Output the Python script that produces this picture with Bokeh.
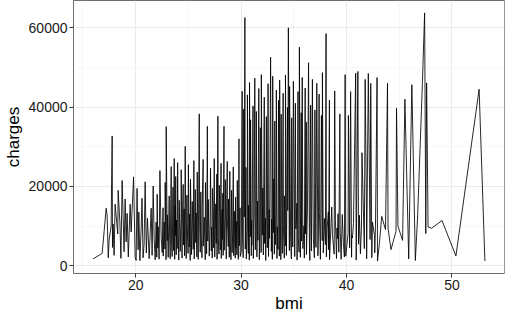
from bokeh.plotting import figure
from bokeh.models import Range1d, FixedTicker, ColumnDataSource
from bokeh.embed import file_html
from bokeh.resources import INLINE

# ---- data (bmi sorted ascending, charges in USD) ----
bmi_a = [15.96, 16.82, 17.2, 17.29, 17.4, 17.48, 17.67, 17.77, 17.8, 17.86,
         17.955, 18.05, 18.3, 18.335, 18.5, 18.6, 18.715, 18.9, 19.0, 19.095,
         19.19, 19.3, 19.475, 19.57, 19.8, 19.95]
charges_a = [1695, 3100, 14455, 12830, 2000, 6500, 9900, 32734, 4600, 10500,
             2600, 15500, 8000, 19000, 11000, 1850, 21500, 3500, 16800, 6000,
             13200, 2200, 15500, 8500, 22400, 2100]

bmi_b = [20.045, 20.13, 20.235, 20.3, 20.4, 20.52, 20.6, 20.7, 20.8, 20.9,
         21.01, 21.12, 21.28, 21.375, 21.47, 21.56, 21.66, 21.755, 21.85, 21.945]
charges_b = [1300, 19500, 4000, 13500, 1250, 9500, 17000, 2000, 5500, 21150,
             3200, 12000, 1750, 8000, 14500, 2600, 20100, 6800, 1500, 11000]

bmi_c = [22.0, 22.04, 22.1, 22.135, 22.22, 22.3, 22.42, 22.515, 22.6, 22.61,
         22.705, 22.77, 22.8, 22.88, 22.895, 22.99, 23.0, 23.085, 23.18, 23.21,
         23.275, 23.32, 23.37, 23.4, 23.465, 23.54, 23.56, 23.6, 23.655, 23.7,
         23.75, 23.76, 23.8, 23.845, 23.87, 23.94, 23.98, 24.035, 24.09, 24.13,
         24.225, 24.3, 24.32, 24.4, 24.415, 24.51, 24.53, 24.6, 24.64, 24.7,
         24.75, 24.795, 24.86, 24.89, 24.97, 25.0, 25.08, 25.1, 25.175, 25.2,
         25.27, 25.3, 25.365, 25.4, 25.46, 25.52, 25.555, 25.6, 25.65, 25.7,
         25.74, 25.8, 25.84, 25.9, 25.935, 26.03, 26.07, 26.125, 26.18, 26.22,
         26.29, 26.315, 26.4, 26.41, 26.505, 26.6, 26.62, 26.695, 26.73, 26.8,
         26.84, 26.885, 26.98, 27.06, 27.1, 27.17, 27.2, 27.265, 27.28, 27.36,
         27.4, 27.455, 27.5, 27.55, 27.6, 27.645, 27.7, 27.72, 27.74, 27.8,
         27.835, 27.9, 27.93, 28.0, 28.025, 28.1, 28.12, 28.2, 28.215, 28.27,
         28.3, 28.31, 28.38, 28.4, 28.49, 28.5, 28.595, 28.6, 28.69, 28.7,
         28.785, 28.8, 28.88, 28.9, 28.93, 28.975, 29.04, 29.07, 29.1, 29.15,
         29.2, 29.26, 29.3, 29.355, 29.4, 29.45, 29.48, 29.5, 29.59, 29.6,
         29.64, 29.7, 29.735, 29.8, 29.83, 29.9, 29.92]
charges_c = [2150, 18000, 4500, 9800, 1650, 24000, 7000, 3300, 14600, 2400,
             11000, 4200, 21000, 1500, 35070, 6300, 12800, 2100, 17600, 8900,
             1750, 13600, 25000, 5400, 2300, 19800, 9200, 3800, 27000, 1600,
             15000, 7600, 22500, 2700, 11500, 4300, 26000, 8100, 1400, 16500,
             3600, 12000, 24200, 1900, 9500, 20500, 5200, 14300, 2500, 30100,
             6700, 1800, 17800, 10800, 3100, 25500, 4700, 13000, 1300, 21800,
             7900, 2800, 16200, 11600, 4100, 26500, 1700, 9100, 19200, 5800,
             13300, 2200, 23600, 6100, 1600, 38300, 10200, 3400, 18600, 7300,
             2000, 14800, 26800, 4900, 12200, 1500, 21000, 8400, 3000, 35150,
             6200, 16700, 2400, 11300, 24600, 3700, 9700, 1900, 19500, 13800,
             4500, 27000, 2200, 8800, 15600, 5600, 23100, 1600, 12600, 37700,
             7100, 2900, 20300, 10500, 4000, 25800, 1800, 14200, 6600, 18300,
             2600, 9900, 35150, 3900, 13100, 21700, 1700, 7700, 26300, 11800,
             4800, 16800, 2100, 10600, 23800, 5900, 1500, 12400, 19000, 3300,
             8200, 24900, 2500, 13700, 6000, 1900, 17300, 4400, 11200, 2700,
             21500, 7500, 1600, 32000, 5000, 14600, 2300]

bmi_d = [30.02, 30.1, 30.14, 30.2, 30.25, 30.3, 30.36, 30.4, 30.46, 30.495,
         30.59, 30.6, 30.685, 30.69, 30.78, 30.8, 30.875, 30.9, 30.97, 31.0,
         31.02, 31.13, 31.16, 31.24, 31.3, 31.35, 31.4, 31.445, 31.5, 31.57,
         31.6, 31.68, 31.73, 31.79, 31.825, 31.9, 31.92, 32.01, 32.06, 32.11,
         32.2, 32.23, 32.3, 32.34, 32.395, 32.45, 32.49, 32.56, 32.6, 32.68,
         32.7, 32.775, 32.8, 32.87, 32.9, 32.965, 33.0, 33.06, 33.11, 33.155,
         33.2, 33.25, 33.33, 33.345, 33.4, 33.44, 33.5, 33.55, 33.6, 33.63,
         33.66, 33.72, 33.77, 33.8, 33.88, 33.915, 33.99, 34.01, 34.1, 34.105,
         34.2, 34.21, 34.3, 34.32, 34.4, 34.43, 34.485, 34.58, 34.6, 34.7,
         34.77, 34.8, 34.87, 34.9, 34.96, 35.09, 35.15, 35.2, 35.3, 35.31,
         35.4, 35.42, 35.5, 35.53, 35.6, 35.625, 35.7, 35.75, 35.8, 35.86,
         35.97, 36.0, 36.08, 36.1, 36.19, 36.2, 36.3, 36.4, 36.48, 36.52,
         36.6, 36.63, 36.67, 36.765, 36.85, 36.955, 37.0, 37.07, 37.1, 37.18,
         37.29, 37.335, 37.4, 37.43, 37.525, 37.62, 37.7, 37.715, 37.8, 37.9,
         38.0, 38.06, 38.09, 38.17, 38.28, 38.3, 38.38, 38.39, 38.6, 38.665,
         38.83, 38.88, 38.95, 39.05, 39.1, 39.14, 39.2, 39.27, 39.37, 39.4,
         39.49, 39.6, 39.7, 39.8, 39.87, 39.93, 40.15, 40.18, 40.3, 40.39,
         40.48, 40.5, 40.565, 40.66, 40.87, 40.92, 41.08, 41.14, 41.23, 41.32,
         41.42, 41.47, 41.69, 41.77, 41.895, 41.91, 42.07, 42.24, 42.3, 42.4,
         42.46, 42.655, 42.68, 42.75, 42.9]
charges_d = [3500, 44000, 6800, 2000, 39500, 12300, 62593, 4200, 24800, 1700,
             9400, 43100, 3100, 15200, 1400, 46200, 7300, 36800, 2500, 11400,
             5100, 40300, 1800, 13500, 47300, 4000, 8900, 38900, 2200, 16300,
             6400, 44700, 1500, 10800, 34800, 3300, 48200, 7700, 19600, 2700,
             42500, 5600, 12000, 1300, 37600, 9100, 4500, 45900, 2300, 14100,
             6900, 40800, 52591, 3600, 11700, 1600, 47800, 8300, 21900, 2900,
             36500, 5300, 13300, 44300, 1800, 9800, 4100, 41700, 7000, 2400,
             46800, 12800, 1500, 38200, 6000, 3100, 43500, 10300, 1900, 17600,
             5000, 48100, 2600, 8700, 39900, 13900, 60021, 3800, 45200, 6600,
             1700, 37300, 11100, 4700, 46500, 2300, 41000, 9300, 15800, 1400,
             43900, 7400, 3400, 55135, 12500, 2100, 38600, 6200, 47500, 4300,
             10100, 1900, 44800, 8000, 36200, 2800, 14900, 51195, 5500, 1300,
             40500, 12000, 3700, 47000, 7200, 2000, 39300, 10700, 4600, 46000,
             2500, 8500, 43300, 13400, 1600, 37900, 6300, 48700, 3200, 11900,
             5300, 58571, 2200, 9600, 13600, 4000, 41800, 1500, 14800, 7800,
             2900, 44100, 11300, 1800, 9500, 6800, 13100, 3400, 38300, 9000,
             1600, 12900, 5900, 2200, 48200, 2400, 8100, 37900, 4500, 43900,
             2100, 7600, 7000, 10600, 48550, 1400, 49000, 5400, 12700, 3000,
             9800, 28500, 4300, 47000, 13800, 1700, 48500, 6600, 46000, 2000,
             11000, 7600, 3200, 10200, 47462]

bmi_e = [42.94, 43.12, 43.34, 43.7, 43.89, 43.94, 44.22, 44.7, 44.745, 44.88,
         45.32, 45.54, 45.9, 46.2, 46.53, 46.75, 47.2, 47.41, 47.52, 47.6,
         47.74, 48.07, 49.06, 50.38, 52.58, 53.13]
charges_e = [1150, 5600, 12440, 9100, 46050, 9480, 4040, 8700, 39700, 10000,
             6370, 42000, 1700, 45650, 1300, 12600, 46000, 63770, 8084, 46113,
             9749, 9433, 11381, 2438, 44501, 1163]

bmi = bmi_a + bmi_b + bmi_c + bmi_d + bmi_e
charges = charges_a + charges_b + charges_c + charges_d + charges_e
assert len(bmi) == len(charges), (len(bmi), len(charges))

x_ticks = [20, 30, 40, 50]
x_minor = [15, 25, 35, 45, 55]
y_ticks = [0, 20000, 40000, 60000]
y_minor = [10000, 30000, 50000]

# ggplot-like 5% expansion
xmin, xmax = min(bmi), max(bmi)
ymin, ymax = min(charges), max(charges)
xpad = (xmax - xmin) * 0.05
ypad = (ymax - ymin) * 0.05

p = figure(width=506, height=315, output_backend="svg", toolbar_location=None,
           x_range=Range1d(xmin - xpad, xmax + xpad),
           y_range=Range1d(ymin - ypad, ymax + ypad),
           min_border_left=0, min_border_right=2, min_border_top=0,
           min_border_bottom=0)

src = ColumnDataSource(dict(bmi=bmi, charges=charges))
p.line("bmi", "charges", source=src, line_color="black", line_width=0.85)

p.background_fill_color = "white"
p.border_fill_color = "white"
p.outline_line_color = "#6e6e6e"
p.outline_line_width = 1

p.xaxis.ticker = FixedTicker(ticks=x_ticks, minor_ticks=x_minor)
p.yaxis.ticker = FixedTicker(ticks=y_ticks, minor_ticks=y_minor)

for g in (p.xgrid, p.ygrid):
    g.grid_line_color = "#EBEBEB"
    g.grid_line_width = 1
    g.minor_grid_line_color = "#F2F2F2"
    g.minor_grid_line_width = 0.6

for ax in (p.xaxis, p.yaxis):
    ax.axis_line_color = None
    ax.major_tick_line_color = "#333333"
    ax.major_tick_out = 4
    ax.major_tick_in = 0
    ax.minor_tick_out = 0
    ax.minor_tick_in = 0
    ax.major_label_text_font = "Liberation Sans"
    ax.major_label_text_font_size = "14px"
    ax.major_label_text_color = "#1a1a1a"
    ax.axis_label_text_font = "Liberation Sans"
    ax.axis_label_text_font_size = "17px"
    ax.axis_label_text_font_style = "normal"
    ax.axis_label_text_color = "black"

p.xaxis.axis_label = "bmi"
p.yaxis.axis_label = "charges"
p.xaxis.major_label_standoff = 2
p.yaxis.major_label_standoff = 2
p.xaxis.axis_label_standoff = 1
p.yaxis.axis_label_standoff = 3

open("out.html", "w").write(file_html(p, INLINE))
